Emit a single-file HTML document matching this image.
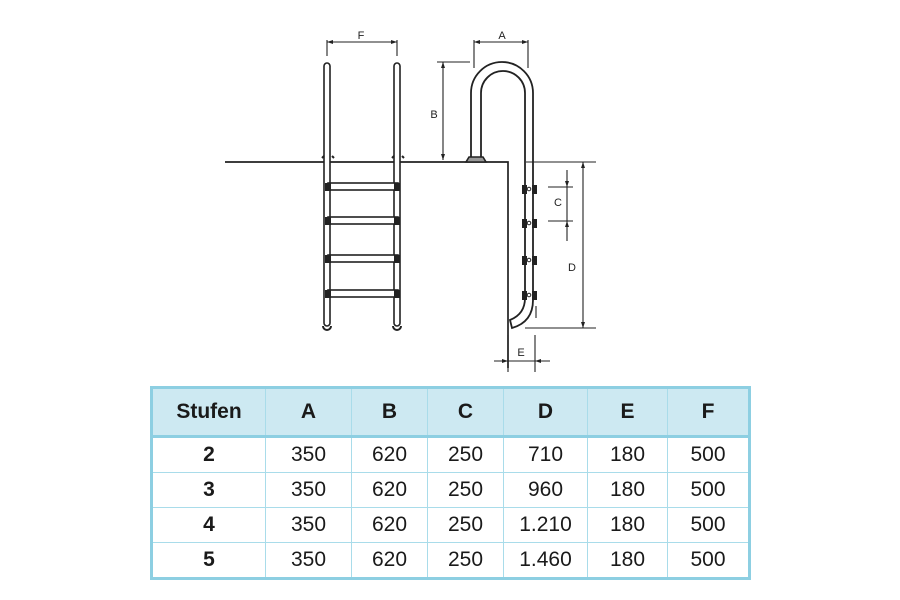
<!DOCTYPE html>
<html><head><style>
body{margin:0;background:#fff;width:900px;height:600px;overflow:hidden;font-family:"Liberation Sans",sans-serif}
svg{position:absolute;left:0;top:0}
table{position:absolute;left:150px;top:386px;border-collapse:collapse;border:3px solid #8dcfe2}
td{border:1px solid #a9dcea;text-align:center;font-size:21px;color:#1a1a1a;height:34px;padding:0}
tr.h td{background:#cde9f2;font-weight:bold;height:46px;border-bottom:3px solid #8dcfe2}
td.s{font-weight:bold}
</style></head><body>
<svg width="900" height="380" viewBox="0 0 900 380" fill="none" stroke="#222" stroke-width="1.6">
<path d="M225 162 H508 V368" stroke-width="1.7"/>
<path d="M324 162 V66 a3 3 0 0 1 6 0 V323 a3 3 0 0 1 -6 0 Z" fill="#fff"/>
<path d="M394 162 V66 a3 3 0 0 1 6 0 V323 a3 3 0 0 1 -6 0 Z" fill="#fff"/>
<path d="M322 158 l2 -2 M332 156 l2 2 M392 158 l2 -2 M402 156 l2 2" stroke-width="2"/>
<path d="M323 326 a4 4 0 0 0 8 0 M393 326 a4 4 0 0 0 8 0" stroke-width="2"/>
<g fill="#fff">
<rect x="328" y="183" width="70" height="7"/><rect x="328" y="217" width="70" height="7"/>
<rect x="328" y="255" width="70" height="7"/><rect x="328" y="290" width="70" height="7"/>
</g>
<g fill="#222" stroke="none">
<rect x="325" y="183" width="6" height="8"/><rect x="394" y="183" width="6" height="8"/>
<rect x="325" y="217" width="6" height="8"/><rect x="394" y="217" width="6" height="8"/>
<rect x="325" y="255" width="6" height="8"/><rect x="394" y="255" width="6" height="8"/>
<rect x="325" y="290" width="6" height="8"/><rect x="394" y="290" width="6" height="8"/>
</g>
<path d="M471 157 V93 a31 31 0 0 1 62 0 V300 Q533 322 512 328 L510 320 Q525 314 525 298 V93 a22 22 0 0 0 -44 0 V157" fill="#fff" stroke-width="1.8"/>
<path d="M466 162 l3 -5 h14 l3 5 Z" fill="#999"/>
<g fill="#222" stroke="none">
<rect x="522" y="185" width="5" height="9"/><rect x="532" y="185" width="5" height="9"/>
<rect x="522" y="219" width="5" height="9"/><rect x="532" y="219" width="5" height="9"/>
<rect x="522" y="256" width="5" height="9"/><rect x="532" y="256" width="5" height="9"/>
<rect x="522" y="291" width="5" height="9"/><rect x="532" y="291" width="5" height="9"/>
</g>
<g fill="#fff" stroke-width="1"><circle cx="529" cy="189" r="1.8"/><circle cx="529" cy="223" r="1.8"/><circle cx="529" cy="260" r="1.8"/><circle cx="529" cy="295" r="1.8"/></g>
<g stroke-width="1.1">
<path d="M327 40 V56 M397 40 V56 M327 42 H397"/>
<path d="M474 40 V68 M528 40 V68 M474 42 H528"/>
<path d="M437 62 H470 M443 62 V160"/>
<path d="M548 187 H573 M548 221 H573 M567 170 V241"/>
<path d="M526 162 H596 M525 328 H596 M583 162 V328"/>
<path d="M508 335 V372 M535 335 V372 M494 361 H550"/>
<path d="M536 306 V318" />
</g>
<g fill="#222" stroke="none">
<path d="M327 42 l6 -2 v4Z M397 42 l-6 -2 v4Z M474 42 l6 -2 v4Z M528 42 l-6 -2 v4Z"/>
<path d="M443 62 l-2 6 h4Z M443 160 l-2 -6 h4Z"/>
<path d="M567 187 l-2 -6 h4Z M567 221 l-2 6 h4Z"/>
<path d="M583 162 l-2 6 h4Z M583 328 l-2 -6 h4Z"/>
<path d="M508 361 l-6 -2 v4Z M535 361 l6 -2 v4Z"/>
</g>
<g fill="#222" stroke="none" font-size="11" font-family="Liberation Sans" text-anchor="middle">
<text x="361" y="39">F</text><text x="502" y="39">A</text><text x="434" y="118">B</text>
<text x="558" y="206">C</text><text x="572" y="271">D</text><text x="521" y="356">E</text>
</g>
</svg>
<table>
<colgroup><col style="width:114px"><col style="width:86px"><col style="width:76px"><col style="width:76px"><col style="width:84px"><col style="width:80px"><col style="width:82px"></colgroup>
<tr class="h"><td>Stufen</td><td>A</td><td>B</td><td>C</td><td>D</td><td>E</td><td>F</td></tr>
<tr><td class="s">2</td><td>350</td><td>620</td><td>250</td><td>710</td><td>180</td><td>500</td></tr>
<tr><td class="s">3</td><td>350</td><td>620</td><td>250</td><td>960</td><td>180</td><td>500</td></tr>
<tr><td class="s">4</td><td>350</td><td>620</td><td>250</td><td>1.210</td><td>180</td><td>500</td></tr>
<tr><td class="s">5</td><td>350</td><td>620</td><td>250</td><td>1.460</td><td>180</td><td>500</td></tr>
</table>
</body></html>
